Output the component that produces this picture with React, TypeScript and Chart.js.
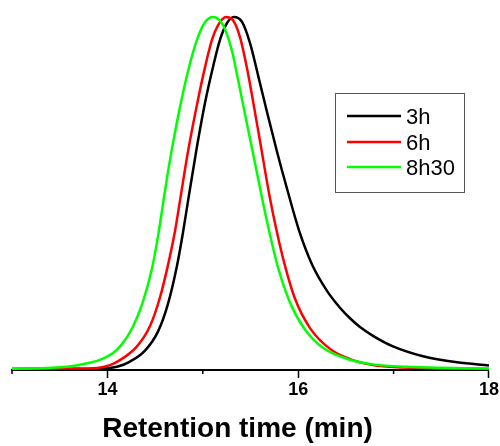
import React, { useEffect, useRef } from "react";
import { Chart, registerables } from "chart.js";

Chart.register(...registerables);

const seriesLabels = ["3h", "6h", "8h30"];
const seriesColors = ["#000000", "#ff0000", "#00ff00"];

const t3h = [13.0, 13.744, 13.954, 14.101, 14.237, 14.394, 14.53, 14.635, 14.73, 14.792, 14.845, 14.939, 15.023, 15.107, 15.18, 15.254, 15.327, 15.411, 15.495, 15.579, 15.673, 15.778, 15.883, 16.019, 16.145, 16.302, 16.438, 16.543, 16.648, 16.784, 16.994, 17.308, 17.665, 18.0];
const i3h = [0.0, 0.0, 0.001, 0.006, 0.021, 0.052, 0.106, 0.185, 0.294, 0.387, 0.477, 0.632, 0.756, 0.858, 0.935, 0.983, 1.0, 0.986, 0.926, 0.835, 0.73, 0.617, 0.512, 0.385, 0.297, 0.222, 0.174, 0.144, 0.119, 0.094, 0.064, 0.036, 0.019, 0.01];

const t6h = [13.0, 13.577, 13.891, 14.027, 14.132, 14.31, 14.447, 14.551, 14.635, 14.709, 14.761, 14.845, 14.939, 15.023, 15.096, 15.159, 15.243, 15.317, 15.39, 15.463, 15.526, 15.6, 15.704, 15.778, 15.862, 15.966, 16.124, 16.333, 16.543, 16.784, 17.1, 17.486, 18.0];
const i6h = [0.0, 0.001, 0.003, 0.011, 0.025, 0.064, 0.122, 0.203, 0.295, 0.392, 0.478, 0.618, 0.751, 0.857, 0.935, 0.976, 1.0, 0.991, 0.943, 0.855, 0.762, 0.647, 0.485, 0.388, 0.293, 0.2, 0.116, 0.057, 0.028, 0.011, 0.004, 0.001, 0.0];

const t8h30 = [13.0, 13.577, 13.786, 13.922, 14.059, 14.143, 14.268, 14.373, 14.468, 14.53, 14.583, 14.625, 14.677, 14.761, 14.845, 14.939, 15.023, 15.107, 15.212, 15.306, 15.369, 15.463, 15.547, 15.621, 15.704, 15.788, 15.914, 16.071, 16.26, 16.543, 16.784, 17.14, 18.0];
const i8h30 = [0.0, 0.006, 0.016, 0.026, 0.045, 0.067, 0.12, 0.191, 0.286, 0.376, 0.469, 0.543, 0.626, 0.744, 0.846, 0.935, 0.985, 1.0, 0.977, 0.904, 0.823, 0.697, 0.585, 0.486, 0.382, 0.289, 0.189, 0.112, 0.06, 0.026, 0.013, 0.006, 0.001];

const majorTicks = [14, 16, 18];
const minorTicks = [13, 15, 17];
const xTitle = "Retention time (min)";

const FONT = "'Liberation Sans', Arial, Helvetica, sans-serif";

const seriesT = [t3h, t6h, t8h30];
const seriesI = [i3h, i6h, i8h30];

const decorPlugin = {
  id: "decor",
  afterDraw(chart: any) {
    const ctx = chart.ctx as CanvasRenderingContext2D;
    const xs = chart.scales.x;
    const area = chart.chartArea;
    ctx.save();
    // minor ticks
    ctx.strokeStyle = "#000";
    ctx.lineWidth = 1.5;
    minorTicks.forEach((v) => {
      const px = xs.getPixelForValue(v);
      ctx.beginPath();
      ctx.moveTo(px, area.bottom);
      ctx.lineTo(px, area.bottom + 4);
      ctx.stroke();
    });
    // axis title
    ctx.fillStyle = "#000";
    ctx.font = `bold 28px ${FONT}`;
    ctx.textAlign = "center";
    ctx.textBaseline = "alphabetic";
    ctx.fillText(xTitle, (area.left + area.right) / 2 - 13, 437);
    // legend box
    const bx = 335.5, by = 93.5, bw = 129, bh = 99;
    ctx.strokeStyle = "#555";
    ctx.lineWidth = 1;
    ctx.strokeRect(bx, by, bw, bh);
    const rowY = [116, 142, 167];
    ctx.font = `22px ${FONT}`;
    ctx.textAlign = "left";
    seriesLabels.forEach((lab, k) => {
      ctx.strokeStyle = seriesColors[k];
      ctx.lineWidth = 2.5;
      ctx.beginPath();
      ctx.moveTo(347, rowY[k]);
      ctx.lineTo(401, rowY[k]);
      ctx.stroke();
      ctx.fillStyle = "#000";
      ctx.fillText(lab, 406, rowY[k] + 8);
    });
    ctx.restore();
  },
};

export default function App() {
  const ref = useRef<HTMLCanvasElement | null>(null);
  useEffect(() => {
    if (!ref.current) return;
    const datasets = seriesLabels.map((lab, k) => ({
      label: lab,
      data: seriesT[k].map((x, j) => ({ x, y: seriesI[k][j] })),
      borderColor: seriesColors[k],
      backgroundColor: seriesColors[k],
      borderWidth: 2.5,
      pointRadius: 0,
      fill: false,
      cubicInterpolationMode: "monotone" as const,
      order: 3 - k,
    }));
    const chart = new Chart(ref.current, {
      type: "line",
      data: { datasets },
      options: {
        animation: false,
        responsive: false,
        maintainAspectRatio: false,
        layout: { padding: { left: 12, right: 11, top: 10, bottom: 46 } },
        plugins: { legend: { display: false }, tooltip: { enabled: false }, title: { display: false } },
        scales: {
          x: {
            type: "linear",
            min: 13,
            max: 18,
            afterBuildTicks: (axis: any) => {
              axis.ticks = majorTicks.map((v) => ({ value: v }));
            },
            afterFit: (axis: any) => {
              axis.height = 30;
            },
            grid: { display: true, drawOnChartArea: false, drawTicks: true, tickLength: 8, tickWidth: 1.5, tickColor: "#000" },
            border: { display: true, color: "#000", width: 2 },
            ticks: {
              color: "#000",
              font: { family: FONT, size: 18, weight: "bold" },
              padding: 1,
              maxRotation: 0,
              autoSkip: false,
              callback: (v: any) => String(v),
            },
          },
          y: { display: false, min: -0.003, max: 1.02 },
        },
      },
      plugins: [decorPlugin],
    });
    return () => chart.destroy();
  }, []);
  return (
    <div style={{ position: "absolute", left: 0, top: 0, width: 500, height: 446, background: "#fff" }}>
      <canvas ref={ref} width={500} height={446} style={{ display: "block" }} />
    </div>
  );
}
